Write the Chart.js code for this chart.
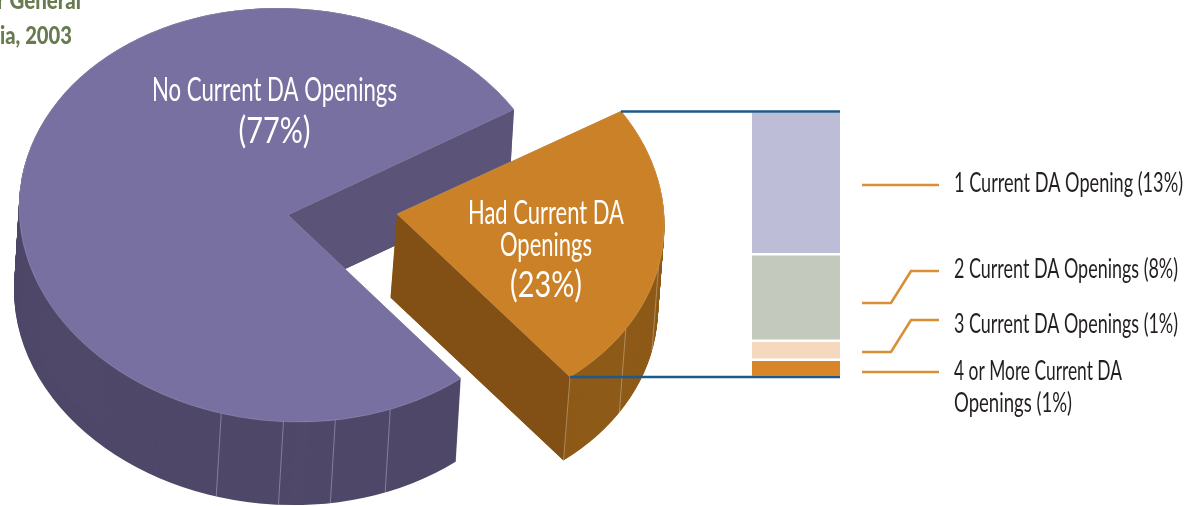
<!DOCTYPE html>
<html><head><meta charset="utf-8">
<style>
html,body{margin:0;padding:0;background:#fff;width:1197px;height:506px;overflow:hidden}
canvas{position:absolute}
#bar{left:752px;top:112px}
#pie{left:0;top:0}
</style>
<script src="https://cdn.jsdelivr.net/npm/chart.js@4"></script>
</head><body>
<canvas id="bar" width="88" height="265"></canvas>
<canvas id="pie" width="1197" height="506"></canvas>
<script>
const pieCategories = ['No Current DA Openings', 'Had Current DA Openings'];
const pieValues = [77, 23];
const barCategories = ['4 or More Current DA Openings', '3 Current DA Openings', '2 Current DA Openings', '1 Current DA Opening'];
const barValues = [1.5, 1.65, 7.5, 12.4];
const barColors = ['#d9862a', '#f5d9bf', '#c3c9bd', '#bdbdd8'];
const pieTop = ['#7870a0', '#cb8127'];
const pieOuter = ['#4f4869', '#8e5a18'];
const pieWall = ['#5c5478', '#825014'];
const pieCenters = [[288, 215], [397, 214]];
const pieShape = [[269, 6, 2.5, 207], [267.5, 7.6, 3.7, 205]];
const pieDepth = [[-5, 83], [-6.5, 83.5]];
const pieSeams = [[104.9, 91.5, 80.4, 68.2], [50.5, 32, 13]];
const FONT = 'Lato,"Liberation Sans",sans-serif';
// text, x, baseline, align, size, width, colour, weight
const texts = [
  ['No Current DA Openings', 274.5, 101, 'center', 33, 245, '#ffffff', 'normal'],
  ['(77%)', 274.5, 143, 'center', 36, 72, '#ffffff', 'normal'],
  ['Had Current DA', 546, 224, 'center', 33, 156, '#ffffff', 'normal'],
  ['Openings', 546, 256, 'center', 33, 92, '#ffffff', 'normal'],
  ['(23%)', 546, 297, 'center', 36, 72, '#ffffff', 'normal'],
  ['1 Current DA Opening (13%)', 954, 192, 'left', 27, 229, '#231f20', 'normal'],
  ['2 Current DA Openings (8%)', 954, 278, 'left', 27, 224, '#231f20', 'normal'],
  ['3 Current DA Openings (1%)', 954, 333, 'left', 27, 224, '#231f20', 'normal'],
  ['4 or More Current DA', 954, 380, 'left', 27, 168, '#231f20', 'normal'],
  ['Openings (1%)', 954, 412, 'left', 27, 118, '#231f20', 'normal'],
  ['r General', 81, 9, 'right', 24, 84, '#687a50', '900'],
  ['ia, 2003', 72, 44, 'right', 24, 72, '#687a50', '900']
];
const leaders = [
  [[862,185],[939,185]],
  [[862,303],[891,303],[911,271],[939,271]],
  [[862,352],[891,352],[911,320],[939,320]],
  [[862,372],[939,372]]
];
const blueLines = [[[621,111.5],[840,111.5]],[[570,377],[840,377]]];

function polyline(ctx, pts, color, w){
  ctx.beginPath(); pts.forEach((p,i)=> i?ctx.lineTo(p[0],p[1]):ctx.moveTo(p[0],p[1]));
  ctx.strokeStyle=color; ctx.lineWidth=w; ctx.stroke();
}
const pie3d = {
  id:'pie3d',
  beforeDatasetsDraw(chart){
    const ctx = chart.ctx;
    const arcs = chart.getDatasetMeta(0).data;
    arcs.forEach((arc,i)=>{
      const R = arc.outerRadius;
      const [sa,sb,sc,sd] = pieShape[i];
      const a = sa/R, b = sb/R, c = sc/R, d = sd/R;
      const [cx,cy] = pieCenters[i], [dx,dy] = pieDepth[i];
      const map = (r,t)=>[cx + a*r*Math.cos(t) + c*r*Math.sin(t), cy + b*r*Math.cos(t) + d*r*Math.sin(t)];
      const place = (ox,oy)=>ctx.setTransform(a,b,c,d,cx+ox-a*arc.x-c*arc.y,cy+oy-b*arc.x-d*arc.y);
      const stamp = Object.create(arc);
      stamp.options = Object.assign({}, arc.options, {backgroundColor:pieOuter[i], borderWidth:0});
      const n = Math.ceil(Math.abs(dy));
      ctx.save();
      for(let k=n;k>=0;k--){ place(dx*k/n, dy*k/n); Chart.ArcElement.prototype.draw.call(stamp, ctx); }
      ctx.setTransform(1,0,0,1,0,0);
      const p0 = map(0,0), p1 = map(R,arc.endAngle);
      ctx.beginPath(); ctx.moveTo(p0[0],p0[1]); ctx.lineTo(p1[0],p1[1]);
      ctx.lineTo(p1[0]+dx,p1[1]+dy); ctx.lineTo(p0[0]+dx,p0[1]+dy); ctx.closePath();
      ctx.fillStyle = pieWall[i]; ctx.fill();
      pieSeams[i].forEach(deg=>{
        const p = map(R,deg*Math.PI/180);
        polyline(ctx,[p,[p[0]+dx,p[1]+dy]],'rgba(255,255,255,0.3)',1);
      });
      place(0,0);
      arc.draw(ctx);
      ctx.restore();
    });
    return false;
  },
  afterDraw(chart){
    const ctx = chart.ctx;
    ctx.save();
    blueLines.forEach(l=>polyline(ctx,l,'#1d5a8a',2.4));
    ctx.lineJoin='miter';
    leaders.forEach(l=>polyline(ctx,l,'#d98f35',2.6));
    texts.forEach(([t,x,y,al,size,w,color,weight])=>{
      ctx.save();
      ctx.font = weight+' '+size+'px '+FONT;
      ctx.fillStyle = color; ctx.textAlign = al; ctx.textBaseline='alphabetic';
      const sx = w/ctx.measureText(t).width;
      ctx.translate(x,y); ctx.scale(sx,1);
      ctx.fillText(t,0,0);
      ctx.restore();
    });
    ctx.restore();
  }
};
new Chart(document.getElementById('pie'),{
  type:'pie',
  data:{labels:pieCategories,datasets:[{data:pieValues,backgroundColor:pieTop,borderColor:'rgba(255,255,255,0.25)',borderWidth:0.6}]},
  options:{responsive:false,animation:false,rotation:140.5,layout:{padding:0},
    plugins:{legend:{display:false},tooltip:{enabled:false}}},
  plugins:[pie3d]
});
new Chart(document.getElementById('bar'),{
  type:'bar',
  data:{labels:['Had Current DA Openings'],
    datasets:barCategories.map((c,i)=>({label:c,data:[barValues[i]],backgroundColor:barColors[i],
      borderColor:'#ffffff',borderWidth:{top:1.5,bottom:1.5,left:0,right:0},borderSkipped:false,
      barPercentage:1,categoryPercentage:1}))},
  options:{responsive:false,animation:false,layout:{padding:0},
    scales:{x:{stacked:true,display:false},y:{stacked:true,display:false,min:0,max:23}},
    plugins:{legend:{display:false},tooltip:{enabled:false}}}
});
</script>
</body></html>
